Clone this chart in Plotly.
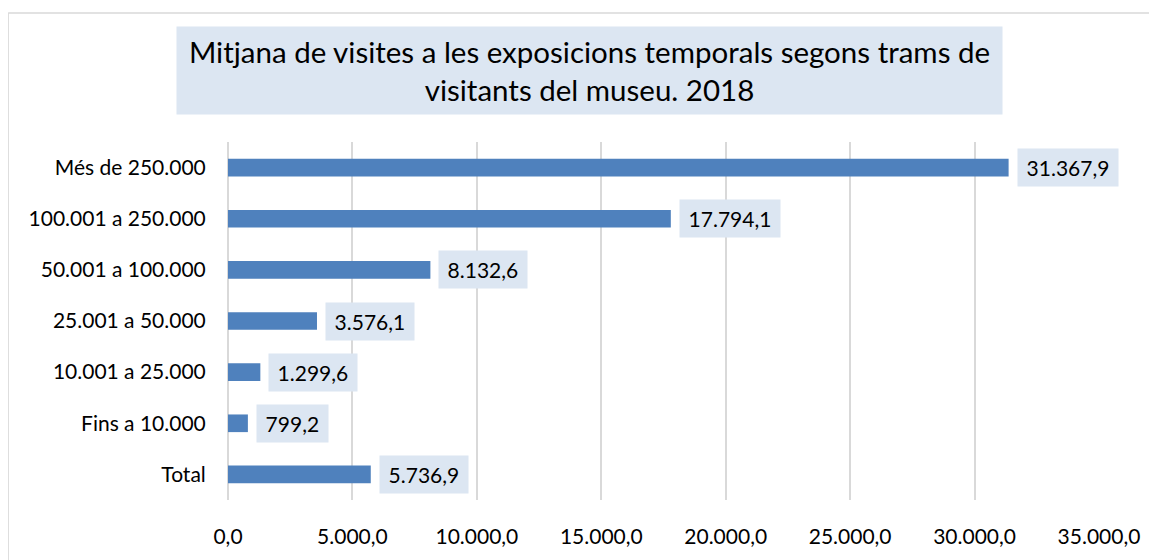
import plotly.graph_objects as go

categories = ["Més de 250.000", "100.001 a 250.000", "50.001 a 100.000",
              "25.001 a 50.000", "10.001 a 25.000", "Fins a 10.000", "Total"]
values = [31367.9, 17794.1, 8132.6, 3576.1, 1299.6, 799.2, 5736.9]
tick_vals = [0, 5000, 10000, 15000, 20000, 25000, 30000, 35000]
tick_text = ["0,0", "5.000,0", "10.000,0", "15.000,0", "20.000,0",
             "25.000,0", "30.000,0", "35.000,0"]
title_text = ("Mitjana de visites a les exposicions temporals segons trams de"
              "<br>visitants del museu. 2018")


def fmt(v):
    s = f"{v:,.1f}"
    return s.replace(",", "X").replace(".", ",").replace("X", ".")


FONT = "Lato"
OFF = 8  # page body margin
W, H = 1157 - OFF, 560 - OFF
L, R = 228.3 - OFF, 1099.0 - OFF
T, B = 142.0 - OFF, 507.0 - OFF


def px_x(p):
    return (p - OFF - L) / (R - L)


def px_y(p):
    return (B - (p - OFF)) / (B - T)


fig = go.Figure()
fig.add_trace(go.Bar(
    x=values, y=categories, orientation="h",
    marker=dict(color="#4f81bd", line=dict(width=0)),
    hoverinfo="x+y",
))

annotations = []
for c, v in zip(categories, values):
    annotations.append(dict(
        x=v, y=c, xref="x", yref="y", xanchor="left", yanchor="middle",
        xshift=8, text="\u2009" + fmt(v) + "\u2009", showarrow=False,
        bgcolor="#dce6f2", borderpad=6,
        font=dict(family=FONT, size=21, color="#000000"),
    ))

annotations.append(dict(
    x=px_x((177 + 1002) / 2), y=px_y(69.5), xref="paper", yref="paper",
    xanchor="center", yanchor="middle", text=title_text, showarrow=False,
    bgcolor="#dce6f2", borderpad=7, width=811, height=73,
    font=dict(family=FONT, size=29.5, color="#000000"),
))

shapes = [
    dict(type="line", xref="paper", yref="paper",
         x0=px_x(8.5), x1=px_x(8.5), y0=px_y(600), y1=px_y(10.5),
         line=dict(color="#d9d9d9", width=1.5)),
    dict(type="line", xref="paper", yref="paper",
         x0=px_x(8.5), x1=px_x(1200), y0=px_y(10.5), y1=px_y(10.5),
         line=dict(color="#d9d9d9", width=1.5)),
]

fig.update_layout(
    width=W, height=H,
    margin=dict(l=L, r=W - R, t=T, b=H - B, pad=0),
    paper_bgcolor="white", plot_bgcolor="white",
    showlegend=False,
    bargap=0.655,
    annotations=annotations,
    shapes=shapes,
    font=dict(family=FONT, size=21, color="#000000"),
    xaxis=dict(
        range=[0, 35000], tickvals=tick_vals, ticktext=tick_text,
        showgrid=True, gridcolor="#d9d9d9", gridwidth=2,
        zeroline=True, zerolinecolor="#d9d9d9", zerolinewidth=2,
        showline=False, ticks="outside", ticklen=18, tickcolor="rgba(0,0,0,0)",
        tickfont=dict(family=FONT, size=21, color="#000000"),
        fixedrange=True,
    ),
    yaxis=dict(
        categoryorder="array", categoryarray=categories, autorange="reversed",
        showgrid=False, zeroline=False, showline=False,
        ticks="outside", ticklen=17, tickcolor="rgba(0,0,0,0)",
        tickfont=dict(family=FONT, size=21, color="#000000"),
        fixedrange=True,
    ),
)

fig.write_html("out.html")
